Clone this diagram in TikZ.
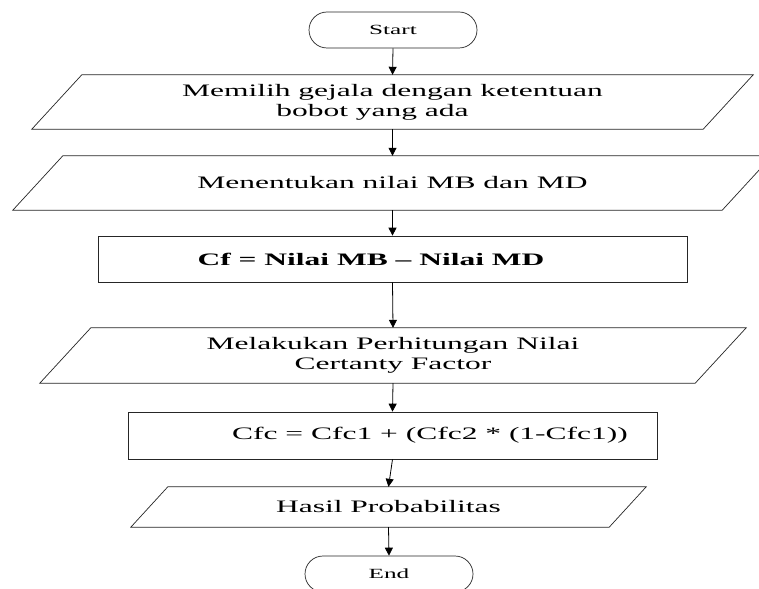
\documentclass[tikz,border=0pt]{standalone}
\usepackage{fontspec}
\setmainfont{Liberation Serif}[FakeStretch=1.8]
\usetikzlibrary{arrows.meta}

% slanted input/output box drawn around a named node: #1 node, #2 half slant
\newcommand{\drawslant}[2]{%
  \draw[outline] ([xshift=#2]#1.north west) -- ([xshift=#2]#1.north east)
    -- ([xshift=-#2]#1.south east) -- ([xshift=-#2]#1.south west) -- cycle;}

\begin{document}
\begin{tikzpicture}[x=1bp,y=-1bp,
  outline/.style={draw=black!85, line width=0.7bp},
  terminal/.style={outline, rounded corners=18bp, minimum width=168bp,
    minimum height=36bp, inner sep=0pt, font=\fontsize{14bp}{16bp}\selectfont},
  iobox/.style={inner sep=0pt, align=center,
    font=\fontsize{17.5bp}{20bp}\selectfont},
  procbox/.style={outline, inner sep=0pt, align=center,
    font=\fontsize{17.5bp}{20bp}\selectfont},
  flow/.style={draw=black, line width=0.8bp,
    -{Triangle[length=8bp,width=8bp]}}
]
\useasboundingbox (0,0) rectangle (759,589);
\clip (0,0) rectangle (759,589);
\fill[white] (0,0) rectangle (759,589);

% steps of the certainty factor procedure
\node[terminal] (start) at (393,30) {Start};

\node[iobox, minimum width=671bp, minimum height=54bp] (p1) at (392.5,102)
  {Memilih gejala dengan ketentuan\\bobot yang ada\hspace*{40bp}};
\drawslant{p1}{25bp}

\node[iobox, minimum width=709bp, minimum height=54bp] (p2) at (392.5,183)
  {Menentukan nilai MB dan MD};
\drawslant{p2}{25bp}

\node[procbox, minimum width=589bp, minimum height=46bp] (r3) at (392.5,259)
  {\textbf{Cf = Nilai MB – Nilai MD}\hspace*{43bp}};

\node[iobox, minimum width=655bp, minimum height=55bp] (p4) at (393,355.5)
  {Melakukan Perhitungan Nilai\\Certanty Factor};
\drawslant{p4}{25.5bp}

\node[procbox, minimum width=529bp, minimum height=47bp] (r5) at (392.5,435.5)
  {\hspace*{75bp}Cfc = Cfc1 + (Cfc2 * (1-Cfc1))};

\node[iobox, minimum width=478bp, minimum height=40bp] (p6) at (388.5,507)
  {Hasil Probabilitas};
\drawslant{p6}{18.5bp}

\node[terminal] (stop) at (389,574) {End};

% connectors
\draw[flow] (start.south) -- (p1.north);
\draw[flow] (p1.south) -- (p2.north);
\draw[flow] (p2.south) -- (r3.north);
\draw[flow] (r3.south) -- (p4.north);
\draw[flow] (p4.south) -- (r5.north);
\draw[flow] (r5.south) -- (p6.north);
\draw[flow] (p6.south) -- (stop.north);
\end{tikzpicture}
\end{document}
